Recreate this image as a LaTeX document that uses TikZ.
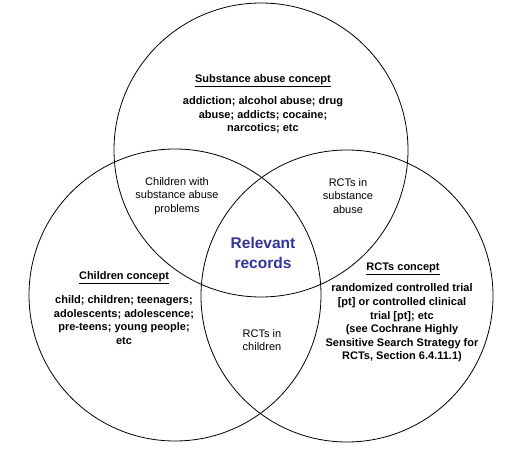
\documentclass[tikz,border=0pt]{standalone}
\usepackage{fontspec}
\setmainfont{Liberation Sans}
\definecolor{recblue}{RGB}{51,51,153}
\begin{document}
\begin{tikzpicture}[x=1pt,y=-1pt,
  ring/.style={draw=black,line width=0.8pt},
  headtxt/.style={font=\bfseries\fontsize{11}{13.6}\selectfont,align=center,inner sep=0pt},
  bodytxt/.style={font=\bfseries\fontsize{11}{13.6}\selectfont,align=center,inner sep=0pt},
  overlap/.style={font=\fontsize{11}{13.6}\selectfont,align=center,inner sep=0pt},
  core/.style={font=\bfseries\fontsize{15.5}{20}\selectfont,text=recblue,align=center,inner sep=0pt}]
\useasboundingbox (0,0) rectangle (517,457);
% the three concept sets
\draw[ring] (261,150) circle (147);
\draw[ring] (175,295) circle (146);
\draw[ring] (347,296) circle (146);
% substance abuse set
\node[headtxt] (subhead) at (263,81) {\underline{Substance abuse concept}};
\node[bodytxt] (subbody) at (263,115) {addiction; alcohol abuse; drug\\abuse; addicts; cocaine;\\narcotics; etc};
% children set
\node[headtxt] (chhead) at (124,278) {\underline{Children concept}};
\node[bodytxt] (chbody) at (124,320) {child; children; teenagers;\\adolescents; adolescence;\\pre-teens; young people;\\etc};
% RCT set
\node[headtxt] (rcthead) at (403,269) {\underline{RCTs concept}};
\node[bodytxt] (rctbody) at (402,323) {randomized controlled trial\\{[pt]} or controlled clinical\\trial [pt]; etc\\(see Cochrane Highly\\Sensitive Search Strategy for\\RCTs, Section 6.4.11.1)};
% pairwise overlaps
\node[overlap] (chsub) at (177,196) {Children with\\substance abuse\\problems};
\node[overlap] (rctsub) at (348,196) {RCTs in\\substance\\abuse};
\node[overlap] (rctch) at (262,340) {RCTs in\\children};
% triple overlap
\node[core] (relevant) at (263,253) {Relevant\\records};
\end{tikzpicture}
\end{document}
